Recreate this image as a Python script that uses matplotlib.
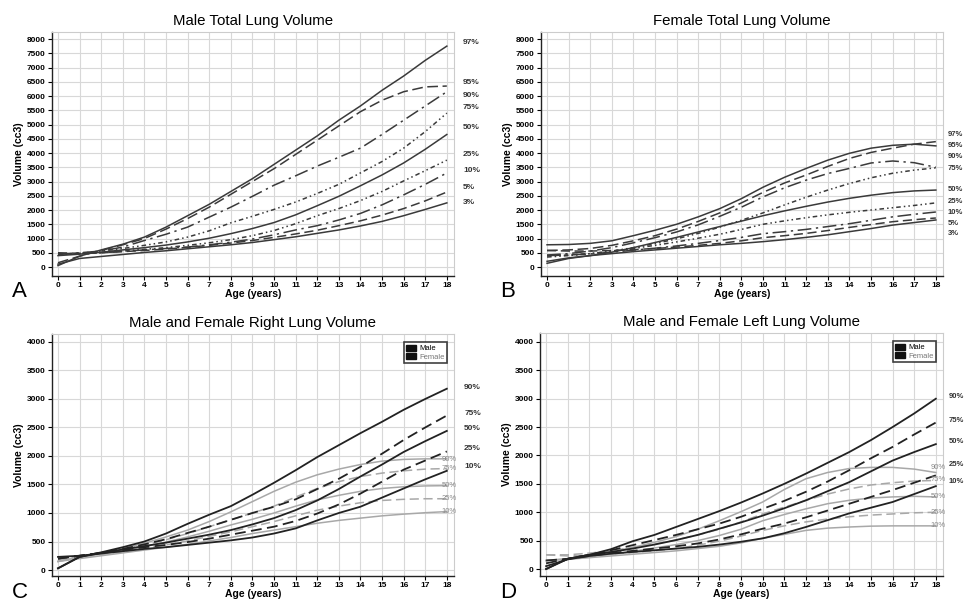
import matplotlib
matplotlib.use("Agg")
import matplotlib.pyplot as plt
from matplotlib.patches import Patch

plt.rcParams['font.family'] = ['Liberation Sans', 'DejaVu Sans']

ages = [0, 1, 2, 3, 4, 5, 6, 7, 8, 9, 10, 11, 12, 13, 14, 15, 16, 17, 18]

# panel A - male total lung volume (cc3)
pct_total = ['97%', '95%', '90%', '75%', '50%', '25%', '10%', '5%', '3%']
male_total = {
    '97%': [50, 380, 600, 800, 1050, 1400, 1800, 2200, 2650, 3100, 3600, 4100, 4600, 5150, 5650, 6200, 6700, 7250, 7750],
    '95%': [150, 380, 580, 780, 1000, 1330, 1700, 2100, 2550, 3000, 3450, 3950, 4450, 4950, 5450, 5850, 6150, 6320, 6350],
    '90%': [450, 500, 560, 700, 930, 1150, 1400, 1750, 2100, 2480, 2870, 3200, 3540, 3850, 4170, 4650, 5150, 5650, 6150],
    '75%': [450, 480, 560, 650, 760, 880, 1050, 1270, 1550, 1780, 2020, 2280, 2580, 2900, 3300, 3700, 4170, 4750, 5400],
    '50%': [400, 450, 520, 600, 680, 770, 880, 1010, 1170, 1350, 1560, 1830, 2150, 2480, 2850, 3230, 3650, 4130, 4650],
    '25%': [450, 470, 500, 560, 620, 680, 760, 850, 960, 1100, 1280, 1520, 1800, 2050, 2330, 2650, 3020, 3380, 3750],
    '10%': [450, 470, 500, 550, 600, 650, 700, 780, 870, 980, 1130, 1300, 1450, 1650, 1880, 2180, 2530, 2900, 3300],
    '5%': [500, 480, 500, 540, 580, 630, 690, 760, 840, 930, 1040, 1160, 1290, 1450, 1620, 1820, 2050, 2320, 2630],
    '3%': [100, 300, 370, 440, 510, 570, 640, 710, 780, 860, 960, 1060, 1180, 1300, 1440, 1600, 1800, 2020, 2250],
}
male_total_label_y = [7860, 6490, 6035, 5580, 4910, 3965, 3370, 2807, 2280]

# panel B - female total lung volume
female_total = {
    '97%': [780, 790, 830, 920, 1100, 1290, 1500, 1760, 2050, 2400, 2800, 3150, 3460, 3750, 3990, 4170, 4270, 4310, 4250],
    '95%': [580, 600, 650, 760, 920, 1100, 1330, 1600, 1900, 2250, 2620, 2950, 3230, 3530, 3810, 4020, 4170, 4310, 4400],
    '90%': [420, 470, 560, 680, 850, 1030, 1230, 1480, 1780, 2100, 2460, 2780, 3050, 3280, 3460, 3650, 3720, 3660, 3500],
    '75%': [350, 400, 470, 560, 680, 820, 990, 1180, 1400, 1640, 1900, 2180, 2450, 2700, 2930, 3130, 3290, 3400, 3480],
    '50%': [130, 300, 400, 520, 680, 860, 1040, 1230, 1420, 1610, 1800, 1970, 2130, 2280, 2410, 2520, 2610, 2670, 2700],
    '25%': [400, 420, 470, 550, 650, 760, 880, 1010, 1150, 1320, 1500, 1620, 1730, 1830, 1920, 2000, 2080, 2160, 2250],
    '10%': [400, 420, 460, 520, 590, 660, 740, 830, 930, 1040, 1170, 1240, 1320, 1420, 1520, 1640, 1760, 1850, 1930],
    '5%': [580, 560, 560, 580, 610, 650, 700, 760, 830, 920, 1030, 1100, 1180, 1280, 1390, 1490, 1590, 1660, 1720],
    '3%': [200, 320, 400, 470, 540, 600, 660, 720, 780, 830, 890, 960, 1040, 1130, 1240, 1350, 1470, 1560, 1650],
}
female_total_label_y = [4667, 4281, 3860, 3439, 2737, 2316, 1930, 1544, 1193]

# panels C / D - right and left lung, male and female
pct_lung = ['90%', '75%', '50%', '25%', '10%']
male_right = {
    '90%': [30, 230, 310, 400, 500, 640, 810, 970, 1120, 1320, 1530, 1750, 1980, 2190, 2400, 2600, 2810, 3000, 3180],
    '75%': [200, 250, 300, 370, 450, 540, 650, 760, 880, 1000, 1110, 1240, 1420, 1600, 1810, 2040, 2280, 2500, 2710],
    '50%': [30, 230, 300, 360, 420, 480, 550, 620, 700, 800, 910, 1050, 1220, 1420, 1640, 1850, 2070, 2260, 2440],
    '25%': [200, 250, 300, 350, 400, 440, 490, 550, 620, 690, 760, 860, 990, 1150, 1340, 1550, 1760, 1920, 2080],
    '10%': [230, 250, 290, 330, 370, 400, 440, 480, 520, 570, 640, 730, 870, 1000, 1110, 1270, 1430, 1590, 1740],
}
female_right = {
    '90%': [150, 230, 300, 380, 470, 580, 700, 850, 1020, 1200, 1380, 1540, 1670, 1770, 1850, 1910, 1940, 1950, 1950],
    '75%': [200, 230, 290, 360, 440, 530, 640, 760, 880, 1000, 1120, 1280, 1430, 1550, 1640, 1700, 1740, 1770, 1780],
    '50%': [150, 220, 280, 340, 410, 490, 580, 680, 790, 890, 1000, 1120, 1230, 1310, 1380, 1430, 1460, 1475, 1480],
    '25%': [180, 220, 270, 320, 380, 440, 510, 590, 670, 760, 850, 950, 1050, 1120, 1180, 1220, 1240, 1250, 1250],
    '10%': [150, 200, 250, 300, 350, 400, 450, 510, 570, 640, 700, 760, 820, 870, 910, 950, 980, 1005, 1025],
}
male_right_label_y = [3210, 2737, 2474, 2123, 1807]
female_right_label_y = [1947, 1789, 1491, 1263, 1035]

male_left = {
    '90%': [0, 180, 250, 350, 490, 600, 740, 880, 1020, 1170, 1330, 1500, 1680, 1870, 2060, 2270, 2500, 2740, 3000],
    '75%': [100, 180, 250, 330, 420, 510, 600, 700, 800, 920, 1060, 1200, 1360, 1540, 1740, 1950, 2150, 2370, 2580],
    '50%': [0, 180, 250, 300, 360, 430, 510, 600, 710, 820, 940, 1070, 1210, 1370, 1530, 1720, 1910, 2060, 2200],
    '25%': [150, 180, 230, 280, 320, 360, 400, 450, 520, 610, 710, 800, 910, 1030, 1150, 1270, 1390, 1520, 1650],
    '10%': [50, 170, 230, 270, 300, 330, 360, 390, 430, 480, 540, 630, 740, 860, 980, 1080, 1180, 1320, 1460],
}
female_left = {
    '90%': [150, 180, 230, 300, 380, 470, 570, 700, 850, 1010, 1180, 1400, 1590, 1700, 1770, 1790, 1790, 1760, 1700],
    '75%': [250, 250, 280, 320, 380, 440, 510, 600, 700, 830, 970, 1090, 1210, 1320, 1410, 1480, 1520, 1550, 1560],
    '50%': [150, 180, 220, 260, 310, 370, 430, 500, 590, 700, 850, 960, 1060, 1150, 1210, 1250, 1270, 1280, 1270],
    '25%': [250, 230, 240, 260, 290, 320, 360, 420, 490, 580, 680, 760, 830, 880, 920, 950, 970, 990, 1000],
    '10%': [150, 170, 200, 230, 260, 290, 320, 360, 400, 460, 540, 610, 680, 720, 740, 755, 760, 760, 760],
}
male_left_label_y = [3031, 2608, 2238, 1833, 1533]
female_left_label_y = [1780, 1568, 1269, 1004, 758]

dashdot = (0, (9, 3, 1.5, 3))
dotty = (0, (3, 2, 1, 2, 1, 2))
styles_total = {'97%': '-', '95%': (0, (7, 3)), '90%': dashdot, '75%': dotty, '50%': '-',
                '25%': dotty, '10%': dashdot, '5%': (0, (6, 3)), '3%': '-'}
styles_lung = {'90%': '-', '75%': (0, (6, 3)), '50%': '-', '25%': (0, (6, 3)), '10%': '-'}

fig = plt.figure(figsize=(9.64, 6.02), dpi=100)
axA = fig.add_axes([0.0539, 0.5415, 0.417, 0.4053])
axB = fig.add_axes([0.5612, 0.5415, 0.417, 0.4053])
axC = fig.add_axes([0.0539, 0.0432, 0.417, 0.402])
axD = fig.add_axes([0.5602, 0.0432, 0.418, 0.4037])


def setup(ax, ymax, ylim, title):
    ax.set_xlim(-0.28, 18.33)
    ax.set_ylim(*ylim)
    ax.set_xticks(ages)
    ax.set_yticks(range(0, ymax + 1, 500))
    ax.grid(True, color='#d8d8d8', linewidth=0.8)
    ax.set_axisbelow(True)
    for s in ['top', 'right']:
        ax.spines[s].set_color('#cccccc')
        ax.spines[s].set_linewidth(0.8)
    for s in ['left', 'bottom']:
        ax.spines[s].set_color('#222222')
        ax.spines[s].set_linewidth(1.0)
    ax.tick_params(direction='out', length=3, width=0.8, pad=1.5, labelsize=6)
    for lab in ax.get_xticklabels() + ax.get_yticklabels():
        lab.set_fontweight('bold')
    ax.set_title(title, fontsize=10.8, pad=5)
    ax.set_xlabel('Age (years)', fontsize=7.5, fontweight='bold', labelpad=0)
    ax.set_ylabel('Volume (cc3)', fontsize=7.5, fontweight='bold', labelpad=2)


setup(axA, 8000, (-316, 8245), 'Male Total Lung Volume')
setup(axB, 8000, (-316, 8245), 'Female Total Lung Volume')
setup(axC, 4000, (-105, 4140), 'Male and Female Right Lung Volume')
setup(axD, 4000, (-123, 4158), 'Male and Female Left Lung Volume')

# percentile labels at the right edge (B and D sit against the figure edge)
for ax, data, label_y, lx, fs in [(axA, male_total, male_total_label_y, 18.75, 6),
                                  (axB, female_total, female_total_label_y, 18.55, 5.5)]:
    for p, ly in zip(pct_total, label_y):
        ax.plot(ages, data[p], color='#3a3a3a', linewidth=1.1, linestyle=styles_total[p])
        ax.text(lx, ly, p, fontsize=fs, fontweight='bold', color='#333333',
                va='center', ha='left', clip_on=False)

for ax, mdata, fdata, mly, fly, lx, fs in [
        (axC, male_right, female_right, male_right_label_y, female_right_label_y, 18.8, 6),
        (axD, male_left, female_left, male_left_label_y, female_left_label_y, 18.6, 5.5)]:
    for p, ly in zip(pct_lung, fly):
        ax.plot(ages, fdata[p], color='#a8a8a8', linewidth=1.1, linestyle=styles_lung[p])
        ax.text(17.75, ly, p, fontsize=5.5, color='#8a8a8a', va='center', ha='left')
    for p, ly in zip(pct_lung, mly):
        ax.plot(ages, mdata[p], color='#222222', linewidth=1.3, linestyle=styles_lung[p])
        ax.text(lx, ly, p, fontsize=fs, fontweight='bold', color='#333333',
                va='center', ha='left', clip_on=False)
    handles = [Patch(facecolor='#111111', edgecolor='#111111', label='Male'),
               Patch(facecolor='#111111', edgecolor='#111111', label='Female')]
    leg = ax.legend(handles=handles, loc='upper right', bbox_to_anchor=(0.983, 0.965),
                    fontsize=5.5, frameon=True, fancybox=False, handlelength=1.2,
                    handleheight=0.8, handletextpad=0.5, borderpad=0.3, labelspacing=0.15,
                    borderaxespad=0)
    leg.get_frame().set_edgecolor('#111111')
    leg.get_frame().set_linewidth(1.2)
    leg.get_texts()[1].set_color('#777777')

for x, y, s in [(12, 297, 'A'), (500, 297, 'B'), (12, 598, 'C'), (500, 598, 'D')]:
    fig.text(x / 964, 1 - y / 602, s, fontsize=16, ha='left', va='baseline')

fig.savefig('out.png', dpi=100)
